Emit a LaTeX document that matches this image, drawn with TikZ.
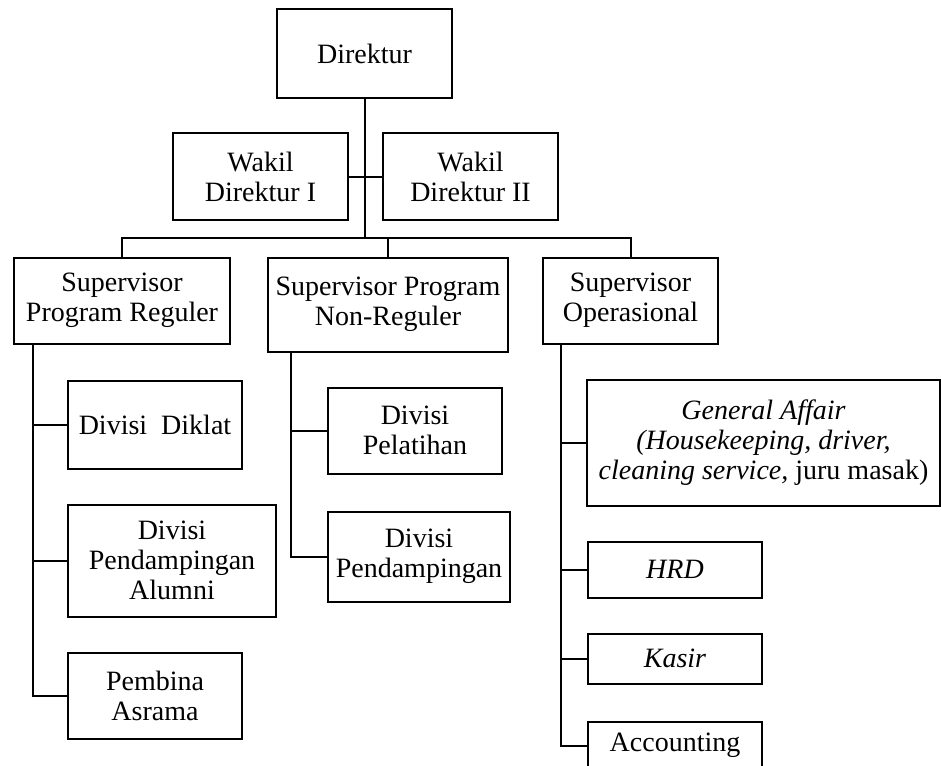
\documentclass[tikz,border=0pt]{standalone}
\usepackage{fontspec}
\setmainfont{Liberation Serif}
\usepackage{tikz}
\usetikzlibrary{calc}
\tikzstyle{office} = [rectangle,draw=black,line width=1pt,inner sep=1pt,align=center,text centered,font=\fontsize{14pt}{15pt}\selectfont]
\tikzstyle{link} = [line width=1pt]

\begin{document}
\begin{tikzpicture}[node distance=62pt]
				\useasboundingbox (0,0) rectangle (470.5pt,-382.5pt);
				\node (direktur) [office, minimum width=87.5pt, minimum height=44.5pt] at (182.25pt,-26.75pt) {Direktur};
				\node (wakil1) [office, below of=direktur, xshift=-52pt, yshift=0.5pt, minimum width=87.5pt, minimum height=43.5pt] {Wakil\\Direktur I};
				\node (wakil2) [office, right of=wakil1, xshift=43pt, minimum width=87.5pt, minimum height=43.5pt] {Wakil\\Direktur II};
				\node (spr) [office, below of=wakil1, xshift=-69.25pt, minimum width=108pt, minimum height=43pt] {Supervisor\\Program Reguler};
				\node (spnr) [office, right of=spr, xshift=71pt, yshift=-2pt, minimum width=120pt, minimum height=47pt] {Supervisor Program\\Non-Reguler};
				\node (so) [office, right of=spnr, xshift=59.25pt, yshift=2pt, minimum width=87.5pt, minimum height=43pt] {Supervisor\\Operasional};
				\node (diklat) [office, below of=spr, xshift=16.5pt, minimum width=87pt, minimum height=44pt] {Divisi\ \ Diklat};
				\node (alumni) [office, below of=diklat, xshift=8.5pt, yshift=-6pt, minimum width=104pt, minimum height=56pt] {Divisi\\Pendampingan\\Alumni};
				\node (asrama) [office, below of=alumni, xshift=-8.5pt, yshift=-5.5pt, minimum width=87pt, minimum height=43pt] {Pembina\\Asrama};
				\node (pelatihan) [office, below of=spnr, xshift=13.5pt, yshift=-1pt, minimum width=87pt, minimum height=43pt] {Divisi\\Pelatihan};
				\node (pendampingan) [office, below of=pelatihan, xshift=2pt, yshift=-1pt, minimum width=91pt, minimum height=45pt] {Divisi\\Pendampingan};
				\node (ga) [office, below of=so, xshift=66.5pt, yshift=-9pt, minimum width=176.5pt, minimum height=63pt] {\textit{General Affair}\\\textit{(Housekeeping, driver,}\\\textit{cleaning service,} juru masak)};
				\node (hrd) [office, below of=ga, xshift=-44.25pt, yshift=-1.5pt, minimum width=87pt, minimum height=28pt] {\textit{HRD}};
				\node (kasir) [office, below of=hrd, yshift=17.5pt, minimum width=87pt, minimum height=25pt] {\textit{Kasir}};
				\node (accounting) [office, below of=kasir, yshift=18.5pt, minimum width=87pt, minimum height=24pt] {Accounting};

				%connect the boxes
				\coordinate (bus) at ($(spr.north)+(0,9.25pt)$);
				\draw [link](direktur.south) -- (direktur.south |- bus);
				\draw [link](wakil1.east) -- (wakil2.west);
				\draw [link](spr.north) -- (bus) -| (so.north);
				\draw [link](spnr.north) -- (spnr.north |- bus);
				\draw [link]([xshift=10pt]spr.south west) |- (diklat.west);
				\draw [link]([xshift=10pt]spr.south west) |- (alumni.west);
				\draw [link]([xshift=10pt]spr.south west) |- (asrama.west);
				\draw [link]([xshift=12pt]spnr.south west) |- (pelatihan.west);
				\draw [link]([xshift=12pt]spnr.south west) |- (pendampingan.west);
				\draw [link]([xshift=9.5pt]so.south west) |- (ga.west);
				\draw [link]([xshift=9.5pt]so.south west) |- (hrd.west);
				\draw [link]([xshift=9.5pt]so.south west) |- (kasir.west);
				\draw [link]([xshift=9.5pt]so.south west) |- (accounting.west);

			\end{tikzpicture}
\end{document}
